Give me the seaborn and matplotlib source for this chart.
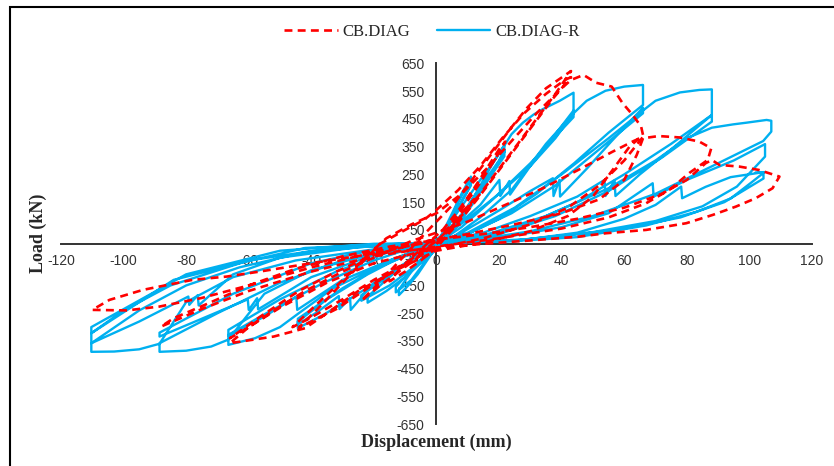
import numpy as np
import pandas as pd
import seaborn as sns
import matplotlib.pyplot as plt
from matplotlib.patches import Rectangle
from matplotlib.font_manager import FontProperties

# CB.DIAG (red dashed) - displacement (mm), load (kN)
cb_diag_pts = [
    (0, 0), (4, 50), (8, 110), (12, 160), (9, 120), (4, 40), (0, -15), (-5, -60), (-10, -100), (-15, -135),
    (-12, -95), (-7, -40), (-3, 0), (2, 50),
    (7, 120), (12, 200), (16, 270), (20, 340), (22, 368), (19, 310), (14, 220), (9, 140), (4, 60), (0, 0),
    (-6, -50), (-12, -100), (-18, -150), (-24, -205), (-20, -160), (-15, -100), (-10, -40), (-6, 10), (0, 80),
    (6, 150), (12, 240), (18, 330), (24, 420), (29, 490), (35, 560), (43, 622), (38, 540), (30, 420), (22, 300),
    (14, 180), (6, 75), (0, 10), (-8, -55), (-16, -115), (-24, -175), (-32, -235), (-40, -280), (-44, -302),
    (-38, -235), (-30, -140), (-24, -70), (-18, 0), (-10, 50), (-4, 86), (0, 122), (7, 194), (14, 280),
    (21, 380), (28, 470), (35, 540), (41, 590), (43, 600), (37, 520), (29, 400), (21, 280), (13, 160), (5, 50),
    (0, -10), (-10, -70), (-20, -130), (-30, -200), (-40, -265), (-46, -300), (-38, -215), (-28, -110),
    (-22, -40), (-16, 20), (-8, 70),
    (0, 110), (8, 180), (16, 270), (24, 370), (32, 470), (40, 560), (43, 590), (47, 608), (51, 580), (56, 566),
    (59.5, 506), (62.7, 464), (65.4, 422), (66, 392), (61.7, 350), (56.3, 266), (50, 170), (42, 100), (30, 45),
    (15, 5), (0, -25), (-12, -90), (-25, -170), (-35, -250), (-42, -304), (-52, -334), (-66, -358),
    (-60, -300), (-52, -240), (-42, -170), (-30, -100), (-18, -40), (-8, 10), (0, 40),
    (10, 80), (22, 140), (34, 200), (46, 270), (56, 330), (63, 370), (66, 385), (60, 300), (52, 210),
    (42, 130), (30, 70), (15, 20), (0, -15), (-20, -70), (-35, -140), (-50, -230), (-60, -300), (-66, -340),
    (-56, -260), (-44, -170), (-32, -100), (-20, -40), (-5, 5),
    (10, 35), (25, 70), (40, 110), (52, 160), (60, 230), (64, 320), (66, 380), (71, 388), (77.6, 383),
    (84, 368), (87.8, 344), (86.7, 302), (80.8, 255), (74.4, 194), (67, 146), (55, 95), (40, 55), (20, 20),
    (0, -10), (-20, -45), (-40, -100), (-60, -170), (-75, -235), (-88, -298), (-84, -268), (-73, -215),
    (-60, -150), (-45, -90), (-30, -45), (-15, -10), (0, 15),
    (15, 35), (30, 60), (45, 90), (60, 130), (72, 180), (80, 230), (86, 290), (88, 302), (90.4, 284),
    (96.8, 278), (103, 266), (109.6, 242), (107.4, 200), (102, 164), (95.7, 134), (88.3, 104), (79.8, 74),
    (67, 50), (54.2, 38), (45.7, 26), (30, 12), (15, 0), (0, -15), (-20, -35), (-40, -70), (-56.5, -100),
    (-67, -118), (-78, -130), (-93.8, -166), (-104.5, -202), (-110, -238), (-99, -240), (-88.5, -226),
    (-75, -195), (-60, -150), (-40, -85), (-20, -30), (0, 10),
]

# CB.DIAG-R (blue solid)
cb_diag_r_pts = [
    (0, 0), (2, 40), (5, 110), (8, 180), (11, 242), (11, 215), (7, 130), (3, 50), (0, -10), (-3, -60),
    (-6, -110), (-9, -150), (-12, -185), (-12, -165), (-8, -100), (-4, -40), (0, 0),
    (3, 55), (7, 150), (11, 235), (11, 210), (6, 110), (1, 10), (-4, -70), (-8, -130), (-13, -175),
    (-13, -155), (-6, -70), (0, 0),
    (4, 70), (9, 150), (14, 230), (18, 290), (21.7, 356), (21.7, 330), (17, 240), (12, 150), (7, 70), (2, 0),
    (-4, -60), (-10, -120), (-16, -170), (-22, -212), (-22, -190), (-15, -120), (-8, -50), (-2, 0),
    (3, 40), (9, 120), (15, 220), (20, 300), (21.7, 338), (21.7, 315), (14, 190), (6, 70), (0, -10),
    (-8, -90), (-15, -150), (-24, -205), (-24, -185), (-12, -90), (-4, -20), (0, 0),
    (5, 60), (10, 130), (15, 230), (18, 290), (21.2, 345), (24, 395), (27.6, 436), (31, 465), (34, 485),
    (39.4, 515), (43.8, 544), (43.8, 470), (35, 360), (24, 194), (14, 95), (6, 30), (0, -10), (-8, -60),
    (-18, -130), (-28, -200), (-36, -255), (-44.3, -304), (-44.3, -280), (-35, -200), (-22, -110),
    (-10, -40), (0, 0),
    (8, 80), (14, 140), (20.1, 230), (20.4, 172), (23.3, 226), (23.5, 177), (30, 280), (37, 380),
    (43.8, 480), (43.8, 456), (30, 290), (18, 160), (8, 60), (0, 0), (-10, -70), (-20, -140), (-27.4, -238),
    (-27.6, -196), (-31, -235), (-31.2, -188), (-38, -245), (-44.3, -290), (-44.3, -270), (-30, -160),
    (-15, -60), (0, 5),
    (10, 90), (20, 180), (30, 280), (38, 380), (43.8, 470), (48, 515), (54, 551), (60, 566), (66, 572),
    (66, 500), (55, 400), (44, 290), (32, 180), (20, 90), (8, 25), (0, -5), (-10, -45), (-22, -100),
    (-33, -160), (-44, -250), (-50, -300), (-58, -340), (-66.5, -364), (-66.5, -328), (-52, -235),
    (-36, -140), (-20, -60), (-8, -15), (0, 0),
    (8, 40), (20, 120), (30, 190), (37.2, 236), (37.4, 172), (39.3, 230), (39.5, 170), (48, 270),
    (56, 370), (66, 490), (66, 470), (52, 340), (38, 210), (24, 110), (10, 35), (0, 0), (-15, -60),
    (-30, -130), (-44.5, -238), (-44.8, -190), (-55, -262), (-66.5, -330), (-66.5, -310), (-50, -200),
    (-32, -100), (-14, -25), (0, 5),
    (10, 40), (25, 130), (40, 250), (55, 380), (66, 480), (70, 515), (77.8, 545), (84, 554), (88, 556),
    (88, 464), (75, 360), (60, 250), (45, 150), (30, 75), (15, 25), (0, -5), (-20, -35), (-40, -95),
    (-55, -180), (-62, -280), (-66.5, -345), (-72, -370), (-80, -385), (-88.5, -389), (-88.5, -358),
    (-70, -250), (-50, -140), (-30, -60), (-12, -10), (0, 5),
    (15, 40), (30, 100), (45, 170), (53.7, 230), (54, 172), (56.9, 228), (57.2, 172), (65, 250), (75, 340),
    (88, 464), (88, 440), (72, 310), (55, 190), (38, 100), (20, 35), (0, 0), (-20, -40), (-40, -120),
    (-57, -236), (-57.3, -196), (-60, -238), (-60.3, -200), (-75, -270), (-88.5, -334), (-88.5, -320),
    (-65, -180), (-40, -70), (-15, -10), (0, 5),
    (15, 30), (35, 100), (55, 200), (70, 300), (80, 380), (88, 418), (94.8, 430), (99, 436), (105.5, 446),
    (107, 443), (107, 404), (104.4, 370), (90, 290), (70, 180), (50, 100), (30, 45), (10, 10), (0, 0),
    (-20, -20), (-45, -60), (-65, -120), (-80, -210), (-88.5, -360), (-95, -380), (-103, -388),
    (-110.3, -389), (-110.3, -358), (-95, -240), (-80, -150), (-63, -85), (-42, -30), (-20, -8), (0, 5),
    (20, 20), (40, 60), (55, 110), (69.1, 218), (69.4, 170), (80, 230), (95, 300), (105, 359), (105, 314),
    (96, 206), (85, 135), (70, 82), (50, 42), (25, 12), (0, 0), (-25, -12), (-50, -50), (-65, -110),
    (-76, -222), (-76.3, -185), (-79, -220), (-79.3, -190), (-95, -280), (-110.3, -358), (-110.3, -322),
    (-84, -130), (-63, -70), (-42, -15), (-20, -4), (0, 5),
    (25, 10), (45, 40), (60, 90), (70, 140), (78.2, 206), (78.5, 164), (86, 205), (94, 240), (104.5, 258),
    (104.5, 235), (92, 150), (78, 95), (60, 55), (35, 20), (0, 0), (-30, -10), (-60, -60), (-85, -150),
    (-100, -240), (-110.3, -322), (-110.3, -300), (-80, -110), (-50, -25), (-20, 0), (0, 3),
    (25, 10), (45, 24), (67, 66), (83, 115), (94, 163), (101, 224), (104.8, 258), (102, 257),
]

x_ticks = list(range(-120, 121, 20))
y_ticks = list(range(-650, 651, 100))

red_df = pd.DataFrame(cb_diag_pts, columns=["disp", "load"])
blue_df = pd.DataFrame(cb_diag_r_pts, columns=["disp", "load"])

sns.set_style("white")
plt.rcParams["axes.unicode_minus"] = False
fig = plt.figure(figsize=(8.34, 4.66), dpi=100)
ax = fig.add_axes([0.0731, 0.0895, 0.9005, 0.7747])

sns.lineplot(data=blue_df, x="disp", y="load", sort=False, estimator=None,
             color="#00B0F0", lw=1.7, ax=ax, label="CB.DIAG-R", zorder=2)
sns.lineplot(data=red_df, x="disp", y="load", sort=False, estimator=None,
             color="#FF0000", lw=1.9, ax=ax, label="CB.DIAG", zorder=3)
ax.lines[-1].set_dashes((3, 2))

ax.set_xlim(-120, 120)
ax.set_ylim(-650, 650)
ax.set_xticks(x_ticks)
ax.set_yticks(y_ticks)
ax.spines["left"].set_position("zero")
ax.spines["bottom"].set_position("zero")
ax.spines["top"].set_visible(False)
ax.spines["right"].set_visible(False)
for s in ["left", "bottom"]:
    ax.spines[s].set_color("#333333")
    ax.spines[s].set_linewidth(1.4)
    ax.spines[s].set_zorder(1)
ax.tick_params(direction="inout", length=9, width=1.3, color="#333333",
               labelsize=10, labelcolor="#333333")
ax.tick_params(axis="x", pad=3)
ax.tick_params(axis="y", pad=4)
for lab in ax.get_xticklabels() + ax.get_yticklabels():
    lab.set_family("Liberation Sans")
ax.set_xlabel("")
ax.set_ylabel("")

fig.text(0.523, 0.050, "Displacement (mm)", ha="center", va="center",
         family="Liberation Serif", weight="bold", fontsize=13)
fig.text(0.046, 0.50, "Load (kN)", ha="center", va="center", rotation=90,
         family="Liberation Serif", weight="bold", fontsize=13)

h, l = ax.get_legend_handles_labels()
ax.get_legend().remove()
fig.legend([h[1], h[0]], [l[1], l[0]], loc="center", bbox_to_anchor=(0.518, 0.932),
           ncol=2, frameon=False, handlelength=3.2, handletextpad=0.3, columnspacing=1.6,
           prop=FontProperties(family="Liberation Serif", size=12))

fig.patches.append(Rectangle((10 / 834, -0.05), 1.1, 1 - 7 / 466 + 0.05, transform=fig.transFigure,
                             fill=False, lw=1.5, edgecolor="black"))

plt.savefig("out.png", dpi=100)
plt.close()
